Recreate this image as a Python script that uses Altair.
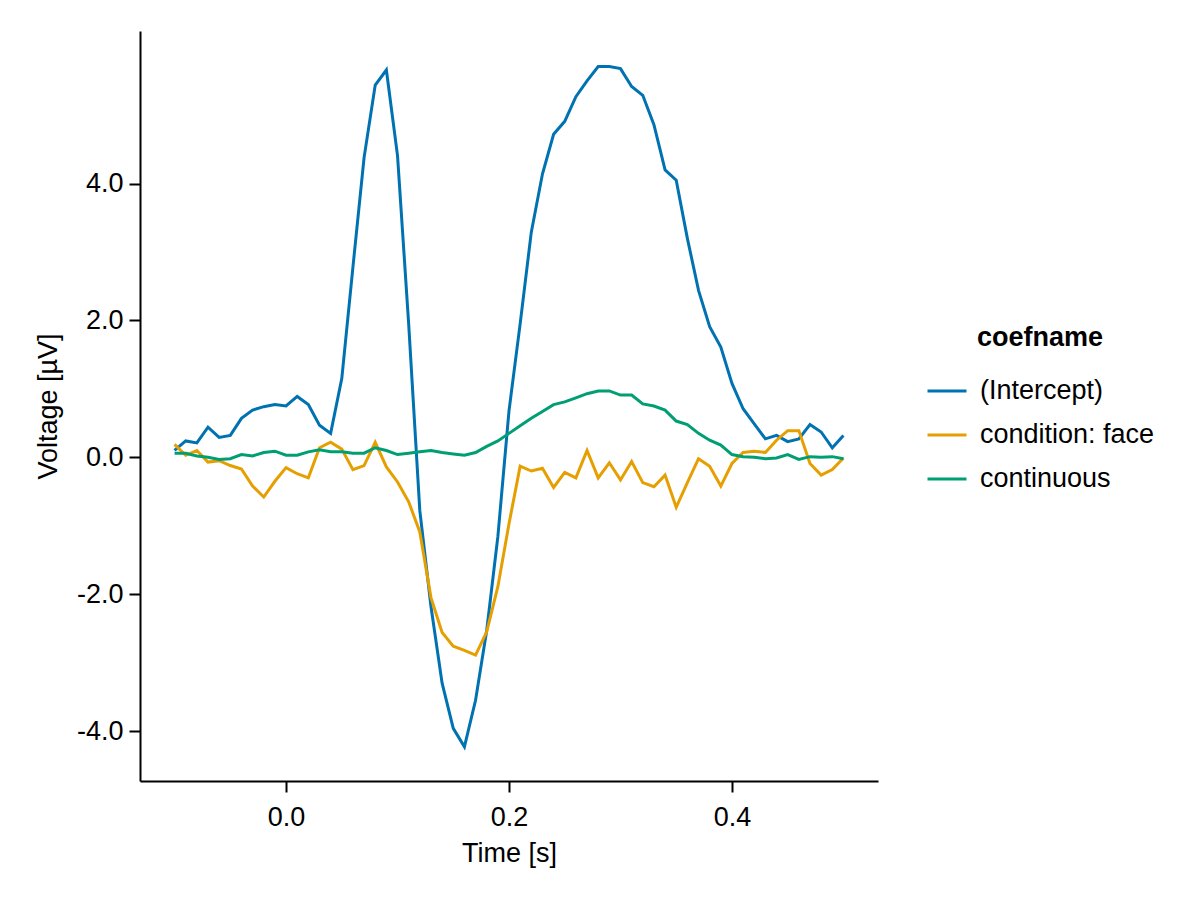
import altair as alt
import pandas as pd

times = [round(-0.10 + 0.01 * i, 2) for i in range(61)]

intercept = [0.10, 0.24, 0.21, 0.44, 0.29, 0.32, 0.57, 0.69, 0.74, 0.77,
             0.75, 0.89, 0.77, 0.47, 0.35, 1.15, 2.78, 4.38, 5.44, 5.66,
             4.41, 1.95, -0.78, -2.18, -3.30, -3.96, -4.23, -3.55, -2.53, -1.16,
             0.68, 1.95, 3.29, 4.14, 4.72, 4.91, 5.27, 5.50, 5.71, 5.71,
             5.68, 5.42, 5.29, 4.86, 4.20, 4.05, 3.20, 2.44, 1.91, 1.61,
             1.08, 0.71, 0.49, 0.27, 0.32, 0.23, 0.27, 0.48, 0.37, 0.14,
             0.32]

face = [0.19, 0.03, 0.10, -0.07, -0.05, -0.12, -0.17, -0.42, -0.58, -0.35,
        -0.15, -0.24, -0.30, 0.14, 0.22, 0.12, -0.18, -0.12, 0.22, -0.14,
        -0.36, -0.65, -1.09, -2.05, -2.56, -2.76, -2.82, -2.89, -2.55, -1.89,
        -0.97, -0.13, -0.20, -0.16, -0.44, -0.22, -0.30, 0.10, -0.30, -0.08,
        -0.33, -0.06, -0.37, -0.43, -0.26, -0.73, -0.37, -0.02, -0.13, -0.42,
        -0.09, 0.07, 0.09, 0.07, 0.25, 0.39, 0.39, -0.09, -0.26, -0.18,
        -0.01]

continuous = [0.06, 0.06, 0.02, 0.00, -0.03, -0.02, 0.04, 0.02, 0.07, 0.09,
              0.03, 0.03, 0.08, 0.11, 0.08, 0.08, 0.06, 0.06, 0.14, 0.10,
              0.04, 0.06, 0.08, 0.10, 0.07, 0.05, 0.03, 0.07, 0.16, 0.24,
              0.35, 0.46, 0.57, 0.67, 0.77, 0.81, 0.87, 0.93, 0.97, 0.97,
              0.91, 0.91, 0.78, 0.75, 0.69, 0.53, 0.48, 0.35, 0.25, 0.18,
              0.04, 0.01, 0.00, -0.02, -0.01, 0.04, -0.03, 0.01, 0.00, 0.01,
              -0.02]

coefnames = ["(Intercept)", "condition: face", "continuous"]
colors = ["#0072B2", "#E69F00", "#009E73"]
x_ticks = [0.0, 0.2, 0.4]
y_ticks = [-4.0, -2.0, 0.0, 2.0, 4.0]

rows = []
for name, series in zip(coefnames, [intercept, face, continuous]):
    for t, v in zip(times, series):
        rows.append({"time": t, "estimate": v, "coefname": name})
df = pd.DataFrame(rows)

FONT = "Liberation Sans"
label_expr = "replace(format(datum.value, '.1f'), '\u2212', '-')"

chart = alt.Chart(df).mark_line(strokeWidth=3, interpolate="linear").encode(
    x=alt.X("time:Q",
            scale=alt.Scale(domain=[-0.131, 0.531], nice=False, zero=False),
            axis=alt.Axis(title="Time [s]", values=x_ticks, labelExpr=label_expr,
                          labelPadding=12, titlePadding=10)),
    y=alt.Y("estimate:Q",
            scale=alt.Scale(domain=[-4.73, 6.23], nice=False, zero=False),
            axis=alt.Axis(title="Voltage [µV]", values=y_ticks, labelExpr=label_expr,
                          labelPadding=6, titlePadding=14)),
    color=alt.Color("coefname:N",
                    scale=alt.Scale(domain=coefnames, range=colors),
                    legend=alt.Legend(title="coefname", orient="none",
                                      legendX=786, legendY=294,
                                      symbolType="stroke", symbolSize=1521,
                                      symbolStrokeWidth=3, labelOffset=12,
                                      labelLimit=400,
                                      rowPadding=10, titlePadding=18,
                                      titleAnchor="middle", padding=0)),
).properties(
    width=738,
    height=750,
    padding={"left": 132, "top": 23, "right": 314, "bottom": 111},
    autosize=alt.AutoSizeParams(type="none"),
).configure_view(
    stroke=None
).configure_axis(
    grid=False,
    domainColor="black",
    domainWidth=2,
    tickColor="black",
    tickWidth=2,
    tickSize=11,
    labelFont=FONT,
    labelFontSize=27,
    labelColor="black",
    titleFont=FONT,
    titleFontSize=27,
    titleFontWeight="normal",
    titleColor="black",
).configure_legend(
    labelFont=FONT,
    labelFontSize=27,
    labelColor="black",
    titleFont=FONT,
    titleFontSize=27,
    titleFontWeight="bold",
    titleColor="black",
)

chart.save("out.html", embed_options={"renderer": "svg", "actions": False})
